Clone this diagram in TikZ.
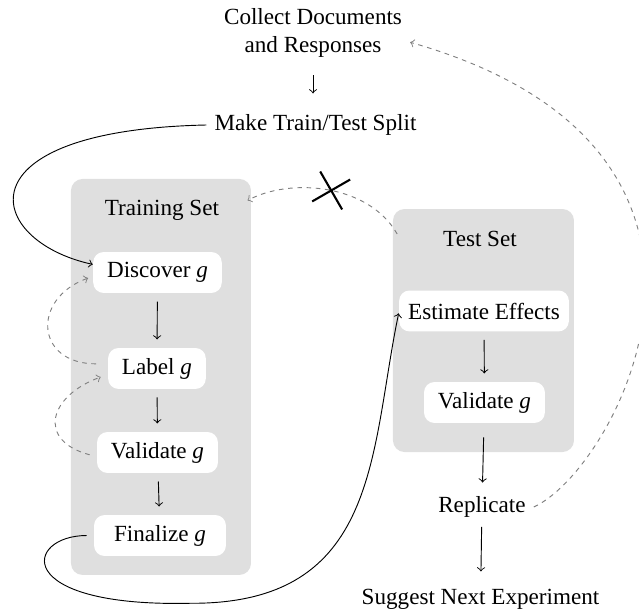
\documentclass[tikz,border=0pt]{standalone}
\usepackage{fontspec}
\setmainfont{Liberation Serif}
\usetikzlibrary{shapes.misc}

\tikzset{
  setbox/.style={fill=gray!25, rounded corners=5pt, inner sep=0pt},
  stepnode/.style={fill=white, rounded corners=4.5pt, minimum height=17.7pt, inner xsep=6pt},
  flow/.style={->, shorten <=3.5pt, shorten >=3.5pt},
  loopback/.style={->, gray, dash pattern=on 2pt off 2pt},
  blocked/.style={draw=black, solid, cross out, line width=0.9pt, minimum size=12.5pt, inner sep=0pt, rotate=-15},
}

\begin{document}
\begin{tikzpicture}
\useasboundingbox (0,0) rectangle (9.713,-9.318);

\node[setbox, minimum width=2.736cm, minimum height=6.019cm] (trainset) at (2.447,-5.730) {};
\node[setbox, minimum width=2.751cm, minimum height=3.694cm] (testset) at (7.349,-5.024) {};

\node[align=center] (collect) at (4.758,-0.502) {Collect Documents\\and Responses};
\node (split) at (4.796,-1.900) {Make Train/Test Split};

\node (traintitle) at (2.462,-3.192) {Training Set};
\node[stepnode] (disc) at (2.394,-4.142) {Discover \textit{g}};
\node[stepnode] (label) at (2.386,-5.601) {Label \textit{g}};
\node[stepnode] (valid) at (2.394,-6.878) {Validate \textit{g}};
\node[stepnode, minimum width=57pt] (final) at (2.432,-8.140) {Finalize \textit{g}};

\node (testtitle) at (7.296,-3.633) {Test Set};
\node[stepnode, inner xsep=3.9pt] (est) at (7.357,-4.727) {Estimate Effects};
\node[stepnode] (tvalid) at (7.364,-6.118) {Validate \textit{g}};

\node (replicate) at (7.326,-7.706) {Replicate};
\node (suggest) at (7.304,-9.105) {Suggest Next Experiment};

\draw[flow, shorten <=4.3pt, shorten >=5.6pt] (collect.south) -- (collect.south |- split.north);
\draw[flow] (disc) -- (label);
\draw[flow] (label) -- (valid);
\draw[flow] (valid) -- (final);
\draw[flow] (est) -- (tvalid);
\draw[flow, shorten <=6pt, shorten >=2.5pt] (tvalid) -- (replicate);
\draw[flow, shorten <=0.5pt, shorten >=4pt] (replicate) -- (suggest);

\draw[->] (split.west) .. controls +(-3.8,-0.08) and +(-1.64,0.36) .. ([yshift=3.5pt]disc.west);
\coordinate (dip) at (2.888,-9.170);
\draw[->] ([xshift=-3pt]final.west) .. controls +(-0.94,0) and +(-2.74,-0.06) .. (dip)
  .. controls +(2.89,-0.02) and +(-0.44,-2.11) .. ([yshift=-1pt]est.west);

\draw[loopback] ([xshift=-5pt,yshift=2pt]label.west) to[out=180,in=200,looseness=1.8] ([xshift=-2pt,yshift=-2.4pt]disc.west);
\draw[loopback] ([xshift=-3pt,yshift=-1pt]valid.west) to[out=165,in=200,looseness=1.8] ([xshift=-3pt,yshift=-3.7pt]label.west);
\draw[loopback] ([xshift=2pt,yshift=-11pt]testset.north west) .. controls +(-0.43,0.76) and +(0.65,0.35) .. ([xshift=-1.7pt,yshift=-9.5pt]trainset.north east) node[pos=0.48, blocked] (nosplit) {};
\draw[loopback] (replicate.east) .. controls +(1.25,0.56) and +(5.75,-1.64) .. ([yshift=-4pt]collect.east);
\end{tikzpicture}
\end{document}
